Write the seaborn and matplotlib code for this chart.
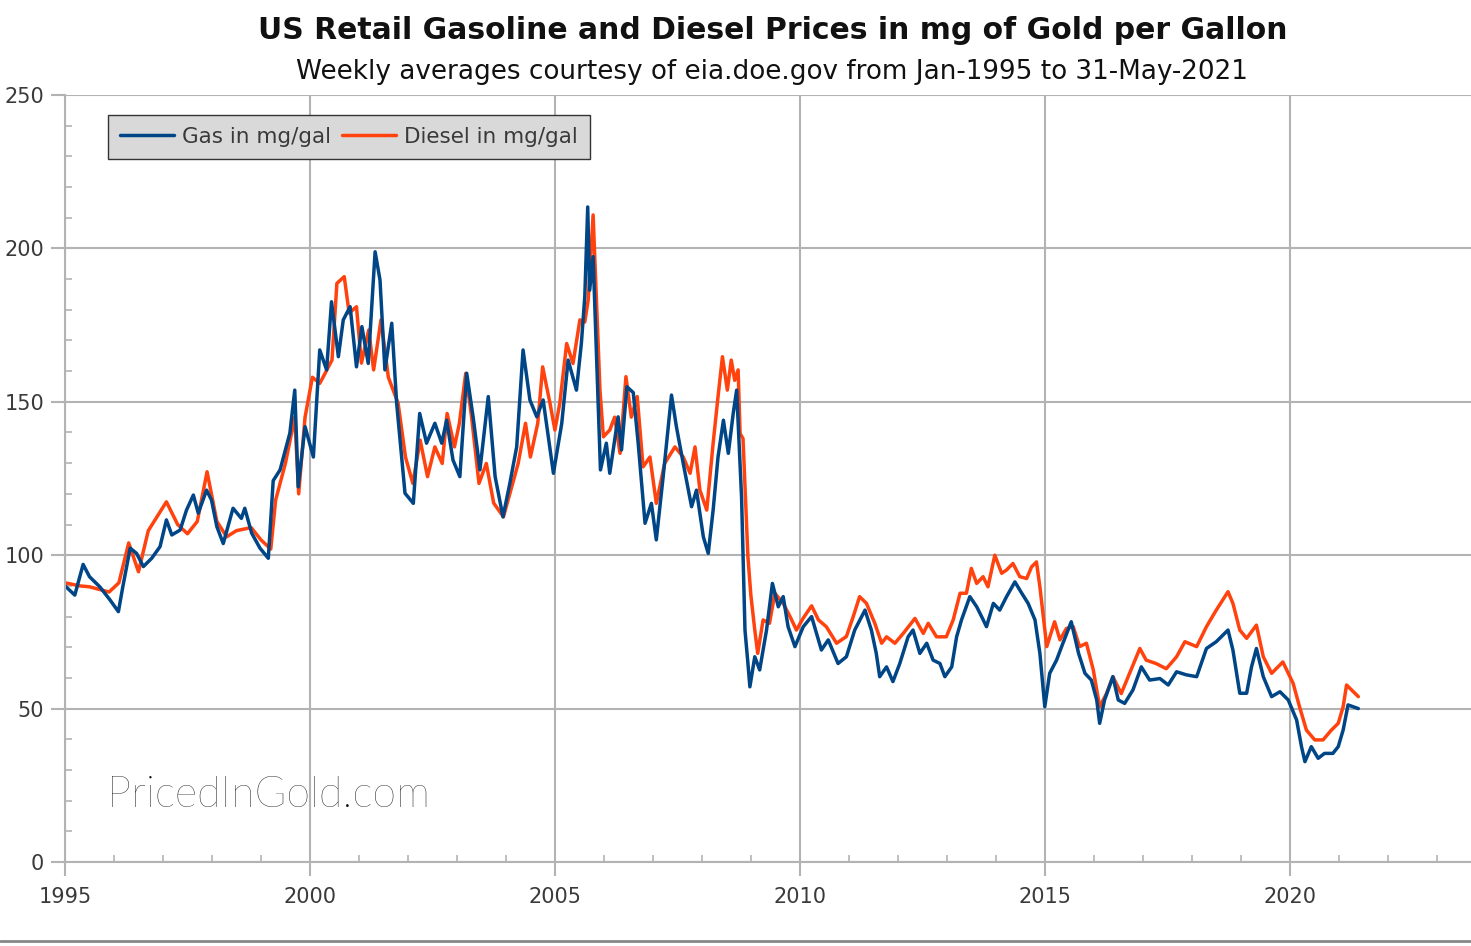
import numpy as np
import pandas as pd
import matplotlib
matplotlib.use("Agg")
import matplotlib.pyplot as plt
from matplotlib.ticker import MultipleLocator
from matplotlib.lines import Line2D
import seaborn as sns

# values (decimal year, mg of gold per gallon)
gas_year = [1995.0, 1995.2, 1995.37, 1995.5, 1995.71, 1995.92, 1996.09, 1996.18, 1996.33, 1996.46,
            1996.6, 1996.77, 1996.94, 1997.07, 1997.18, 1997.35, 1997.48, 1997.62, 1997.72, 1997.89,
            1997.99, 1998.1, 1998.23, 1998.43, 1998.6, 1998.67, 1998.81, 1998.98, 1999.15, 1999.25,
            1999.39, 1999.59, 1999.69, 1999.76, 1999.9, 2000.07, 2000.2, 2000.34, 2000.44, 2000.58,
            2000.68, 2000.82, 2000.95, 2001.06, 2001.19, 2001.33, 2001.43, 2001.53, 2001.67, 2001.77,
            2001.94, 2002.11, 2002.24, 2002.38, 2002.55, 2002.69, 2002.79, 2002.92, 2003.06, 2003.2,
            2003.33, 2003.47, 2003.64, 2003.78, 2003.94, 2004.08, 2004.22, 2004.35, 2004.49, 2004.63,
            2004.76, 2004.97, 2005.14, 2005.27, 2005.44, 2005.54, 2005.61, 2005.67, 2005.71, 2005.78,
            2005.85, 2005.93, 2006.05, 2006.12, 2006.29, 2006.36, 2006.47, 2006.6, 2006.7, 2006.84,
            2006.97, 2007.07, 2007.21, 2007.38, 2007.48, 2007.62, 2007.79, 2007.89, 2008.03, 2008.13,
            2008.23, 2008.33, 2008.44, 2008.54, 2008.64, 2008.71, 2008.81, 2008.88, 2008.94, 2008.98,
            2009.08, 2009.18, 2009.32, 2009.44, 2009.56, 2009.66, 2009.76, 2009.9, 2010.07, 2010.24,
            2010.44, 2010.58, 2010.78, 2010.95, 2011.12, 2011.33, 2011.46, 2011.56, 2011.63, 2011.77,
            2011.9, 2012.04, 2012.21, 2012.31, 2012.45, 2012.59, 2012.72, 2012.86, 2012.96, 2013.1,
            2013.2, 2013.3, 2013.47, 2013.61, 2013.71, 2013.81, 2013.95, 2014.08, 2014.22, 2014.39,
            2014.53, 2014.66, 2014.8, 2014.9, 2015.0, 2015.1, 2015.24, 2015.37, 2015.54, 2015.69,
            2015.82, 2015.95, 2016.06, 2016.12, 2016.22, 2016.39, 2016.5, 2016.63, 2016.8, 2016.97,
            2017.14, 2017.35, 2017.52, 2017.69, 2017.89, 2018.1, 2018.3, 2018.5, 2018.74, 2018.84,
            2018.98, 2019.12, 2019.22, 2019.32, 2019.46, 2019.63, 2019.8, 2019.97, 2020.14, 2020.24,
            2020.31, 2020.44, 2020.58, 2020.71, 2020.88, 2020.99, 2021.09, 2021.19, 2021.4]
gas_mg = [90, 87, 97, 93, 89.7, 85.4, 81.6, 89.7, 102.3, 100.6,
          96.3, 99, 102.8, 111.5, 106.6, 108.2, 114.7, 119.6, 113.7, 121.2,
          118, 109.3, 103.8, 115.3, 112, 115.3, 107.2, 102.3, 99, 124.3,
          127.8, 139.8, 153.8, 122.3, 141.9, 132, 166.9, 160.4, 182.6, 164.7,
          176.7, 181, 161.4, 174.5, 162.5, 198.9, 189.7, 160.4, 175.6, 149.5,
          120.2, 116.9, 146.2, 136.5, 143, 136.5, 144, 131, 125.6, 159.3,
          145.1, 127.8, 151.7, 125.6, 112.5, 123.4, 135.3, 166.9, 150.6, 145.1,
          150.6, 126.7, 143, 163.6, 153.8, 169, 184.2, 213.5, 186.4, 197.3,
          164.7, 127.8, 136.5, 126.7, 145.1, 134.3, 154.9, 153, 136.5, 110.4,
          116.9, 105, 125.6, 152.2, 141.9, 129.9, 115.8, 121.2, 106, 100.6,
          114.7, 132, 144, 133.2, 146.2, 153.8, 119, 75.6, 64.8, 57.1,
          66.9, 62.6, 75.6, 90.8, 83.2, 86.5, 76.7, 70.2, 76.7, 80,
          69.1, 72.4, 64.7, 66.9, 75.6, 82.1, 75.6, 68, 60.4, 63.6,
          58.8, 64.7, 73.4, 75.6, 68, 71.3, 65.8, 64.7, 60.4, 63.6,
          73.4, 78.9, 86.5, 83.2, 80, 76.7, 84.3, 82.1, 86.5, 91.3,
          87.6, 84.3, 78.9, 68, 50.6, 61.5, 65.8, 71.3, 78.3, 68,
          61.5, 59.3, 52.8, 45.2, 52.8, 60.4, 52.8, 51.7, 56.1, 63.6,
          59.3, 59.8, 57.7, 62, 61, 60.4, 69.6, 71.8, 75.6, 69.1,
          55, 55, 63.6, 69.6, 60.4, 53.9, 55.5, 52.8, 46.3, 37.6,
          32.7, 37.6, 33.8, 35.4, 35.4, 37.6, 43, 51.2, 50]

diesel_year = [1995.0, 1995.3, 1995.5, 1995.9, 1996.1, 1996.3, 1996.5, 1996.7, 1997.07, 1997.3,
               1997.5, 1997.7, 1997.9, 1998.1, 1998.3, 1998.5, 1998.8, 1999.0, 1999.2, 1999.3,
               1999.5, 1999.69, 1999.77, 1999.9, 2000.05, 2000.2, 2000.3, 2000.45, 2000.55, 2000.7,
               2000.8, 2000.95, 2001.05, 2001.2, 2001.3, 2001.45, 2001.6, 2001.8, 2001.95, 2002.1,
               2002.25, 2002.4, 2002.55, 2002.7, 2002.8, 2002.95, 2003.05, 2003.18, 2003.3, 2003.45,
               2003.6, 2003.75, 2003.95, 2004.1, 2004.25, 2004.4, 2004.5, 2004.65, 2004.75, 2004.9,
               2005.0, 2005.1, 2005.24, 2005.37, 2005.51, 2005.61, 2005.68, 2005.78, 2005.84, 2005.92,
               2005.99, 2006.12, 2006.22, 2006.33, 2006.45, 2006.56, 2006.68, 2006.8, 2006.94, 2007.07,
               2007.24, 2007.45, 2007.62, 2007.76, 2007.86, 2007.96, 2008.1, 2008.23, 2008.33, 2008.42,
               2008.52, 2008.6, 2008.67, 2008.74, 2008.78, 2008.84, 2008.94, 2009.0, 2009.08, 2009.14,
               2009.25, 2009.38, 2009.49, 2009.66, 2009.8, 2009.93, 2010.07, 2010.24, 2010.38, 2010.54,
               2010.75, 2010.95, 2011.09, 2011.22, 2011.36, 2011.53, 2011.67, 2011.77, 2011.94, 2012.11,
               2012.35, 2012.52, 2012.62, 2012.79, 2012.99, 2013.13, 2013.27, 2013.4, 2013.5, 2013.61,
               2013.74, 2013.84, 2013.98, 2014.12, 2014.22, 2014.35, 2014.49, 2014.63, 2014.73, 2014.83,
               2014.9, 2015.04, 2015.2, 2015.31, 2015.44, 2015.58, 2015.71, 2015.85, 2015.99, 2016.12,
               2016.26, 2016.39, 2016.56, 2016.73, 2016.94, 2017.07, 2017.27, 2017.48, 2017.69, 2017.86,
               2018.1, 2018.3, 2018.5, 2018.74, 2018.84, 2018.98, 2019.12, 2019.32, 2019.46, 2019.63,
               2019.86, 2020.07, 2020.2, 2020.34, 2020.51, 2020.68, 2020.85, 2020.99, 2021.09, 2021.16,
               2021.4]
diesel_mg = [91, 90, 89.7, 88, 91, 104, 94.6, 108, 117.4, 110,
             107, 111, 127.2, 111, 106, 108, 109, 105, 102, 118,
             130, 145, 120, 145, 158, 156, 159, 163.6, 188.6, 190.8,
             178.9, 181, 162.6, 173.4, 160.4, 176.7, 158, 149.5, 132, 123.4,
             137.5, 125.6, 135.3, 129.9, 146.2, 135.3, 143, 159.3, 145, 123.4,
             129.9, 117, 112.5, 121.2, 129.9, 143, 132, 143, 161.4, 149.5,
             140.8, 149.5, 169, 162.5, 176.7, 176, 183.2, 210.9, 186.4, 153.8,
             138.6, 140.8, 145, 133.2, 158.2, 145, 151.7, 128.8, 132, 116.9,
             129.9, 135.3, 132, 126.7, 135.3, 121.2, 114.7, 136.5, 151.7, 164.7,
             153.8, 163.6, 157, 160.4, 139.7, 138, 99.5, 87, 75.6, 68,
             78.9, 77.8, 87.6, 84.3, 80, 75.6, 79.5, 83.5, 78.9, 76.7,
             71.3, 73.5, 80, 86.5, 84.3, 77.8, 71.3, 73.4, 71.3, 74.5,
             79.4, 74.5, 77.8, 73.4, 73.4, 78.9, 87.6, 87.6, 95.7, 90.8,
             93, 89.7, 100, 94.1, 95.2, 97.3, 93, 92.4, 96.2, 97.8,
             89.7, 70.2, 78.3, 72.4, 76.1, 76.7, 70.2, 71.3, 62.6, 50.6,
             54.9, 60.4, 54.9, 61.5, 69.6, 65.8, 64.7, 63, 66.9, 71.8,
             70.2, 76.7, 82.1, 88.1, 84.3, 75.6, 72.9, 77.2, 66.9, 61.5,
             65.2, 58.2, 50.6, 43, 39.8, 39.8, 43, 45.2, 50.6, 57.7,
             53.9]

gas_label = "Gas in mg/gal"
diesel_label = "Diesel in mg/gal"
gas_color = "#004586"
diesel_color = "#ff420e"

gas = pd.DataFrame({"year": gas_year, "mg": gas_mg})
diesel = pd.DataFrame({"year": diesel_year, "mg": diesel_mg})

sns.set_style("white")
plt.rcParams["font.family"] = ["DejaVu Sans"]

fig = plt.figure(figsize=(14.71, 9.46), dpi=100)
ax = fig.add_axes([65 / 1471, 84 / 946, 1 - 65 / 1471, 767 / 946])

sns.lineplot(data=diesel, x="year", y="mg", color=diesel_color, lw=2.5, ax=ax,
             estimator=None, label=diesel_label)
sns.lineplot(data=gas, x="year", y="mg", color=gas_color, lw=2.5, ax=ax,
             estimator=None, label=gas_label)

ax.set_xlim(1995, 2023.7)
ax.set_ylim(0, 250)
ax.set_xlabel("")
ax.set_ylabel("")

grid_c = "#b3b3b3"
ax.xaxis.set_major_locator(MultipleLocator(5))
ax.xaxis.set_minor_locator(MultipleLocator(1))
ax.yaxis.set_major_locator(MultipleLocator(50))
ax.yaxis.set_minor_locator(MultipleLocator(10))
ax.grid(True, which="major", color=grid_c, lw=1.5)
ax.tick_params(which="major", direction="out", length=10, width=1.5, color=grid_c,
               labelsize=15, labelcolor="#3a3a3a", left=True, bottom=True)
ax.tick_params(which="minor", direction="in", length=5, width=1.2, color=grid_c,
               left=True, bottom=True)
ax.tick_params(axis="x", which="major", pad=8)
ax.tick_params(axis="y", which="major", pad=5)
for s in ["top", "right"]:
    ax.spines[s].set_visible(False)
for s in ["left", "bottom"]:
    ax.spines[s].set_color(grid_c)
    ax.spines[s].set_linewidth(1.5)

handles, labels = ax.get_legend_handles_labels()
order = [labels.index(gas_label), labels.index(diesel_label)]
leg = ax.legend([handles[i] for i in order], [labels[i] for i in order],
                loc="upper left", bbox_to_anchor=(0.0306, 0.974), borderaxespad=0,
                ncol=2, fontsize=15.5, frameon=True, fancybox=False, framealpha=1,
                facecolor="#d9d9d9", edgecolor="#333333", handlelength=2.5,
                columnspacing=0.5, handletextpad=0.4, borderpad=0.55)
for t in leg.get_texts():
    t.set_color("#3a3a3a")

ax.text(0.030, 0.072, "PricedInGold.com", transform=ax.transAxes, fontsize=31,
        family=["Lato", "DejaVu Sans"], fontweight="light", color="#111111")

fig.text(0.525, 0.968, "US Retail Gasoline and Diesel Prices in mg of Gold per Gallon",
         ha="center", va="center", fontsize=21.5, fontweight="bold", color="#111111")
fig.text(0.525, 0.924, "Weekly averages courtesy of eia.doe.gov from Jan-1995 to 31-May-2021",
         ha="center", va="center", fontsize=18.9, color="#111111")

fig.add_artist(Line2D([0, 1], [5 / 946, 5 / 946], transform=fig.transFigure,
                      color="#888888", lw=2))

fig.savefig("out.png", dpi=100)
